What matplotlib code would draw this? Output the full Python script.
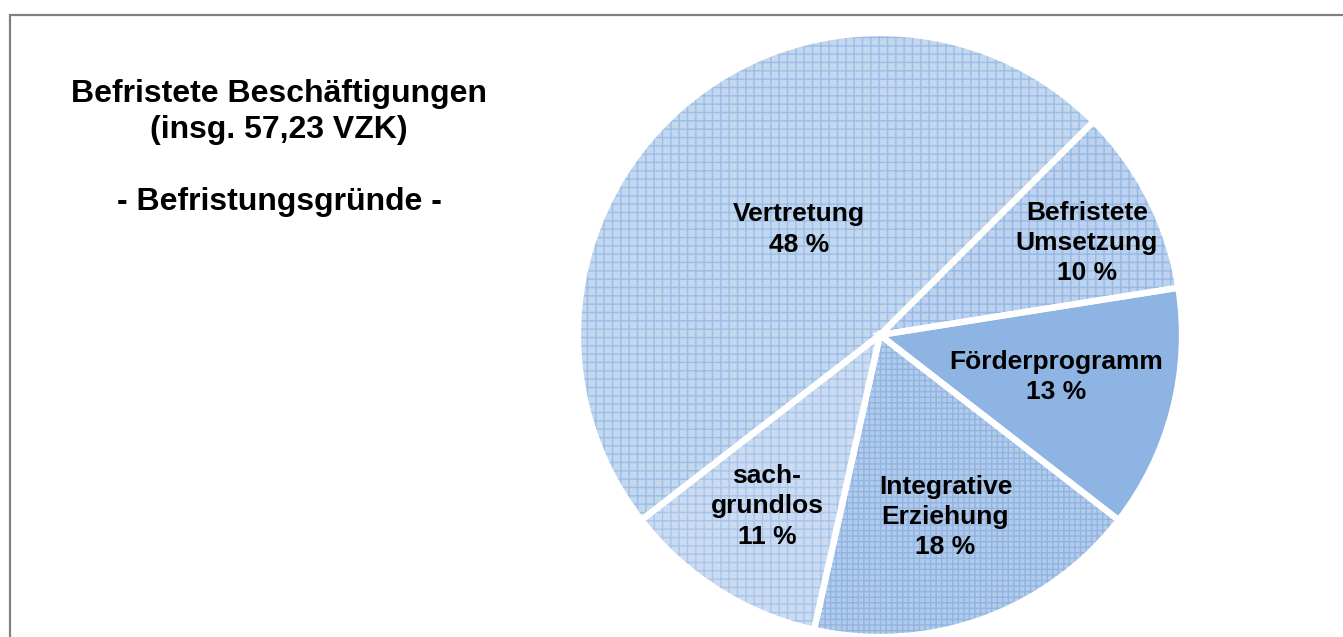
import numpy as np
import matplotlib.pyplot as plt
from matplotlib.patches import Rectangle

plt.rcParams["font.family"] = ["Liberation Sans", "DejaVu Sans"]
plt.rcParams["hatch.linewidth"] = 1.0

# data (clockwise from the upper right)
categories = ["Befristete\nUmsetzung", "Förderprogramm", "Integrative\nErziehung",
              "sach-\ngrundlos", "Vertretung"]
shares = [10, 13, 18, 11, 48]

# style
base_colors = ["#bcd2ee", "#8eb4e3", "#b3cbea", "#cbdcf2", "#c3d7ef"]
hatch_colors = ["#95b8e4", "#8eb4e3", "#90b5e3", "#a8c4e9", "#9bbde6"]
hatches = ["++", None, "+++", "++", "++"]
label_radius = [0.75, 0.60, 0.64, 0.68, 0.44]
label_shift = [-3, 1, 0, -1, -4]   # degrees, small nudges off the wedge middle

W, H = 1343, 637
fig = plt.figure(figsize=(W / 100, H / 100), dpi=100)

# grey frame (right / bottom edge outside the picture)
fig.patches.append(Rectangle((9.5 / W, -0.1), 2.0, 1 - 14.5 / H + 0.1,
                             transform=fig.transFigure, fill=False,
                             edgecolor="#808080", linewidth=1.6))

cx, cy, r = 880, 335, 302
ax = fig.add_axes([(cx - r) / W, (H - cy - r) / H, 2 * r / W, 2 * r / H])

wedges, _ = ax.pie(shares, colors=base_colors, startangle=45, counterclock=False,
                   wedgeprops=dict(linewidth=0))
for w, hc, h in zip(wedges, hatch_colors, hatches):
    w.set_clip_on(False)
    if h:
        w.set_hatch(h)
        w.set_edgecolor(hc)
        w.set_linewidth(0)

# white separators
sep, _ = ax.pie(shares, startangle=45, counterclock=False,
                wedgeprops=dict(fill=False, edgecolor="white", linewidth=4.5))
for w in sep:
    w.set_clip_on(False)

for w, cat, val, rr, sh in zip(wedges, categories, shares, label_radius, label_shift):
    mid = np.deg2rad((w.theta1 + w.theta2) / 2 + sh)
    ax.text(rr * np.cos(mid), rr * np.sin(mid), f"{cat}\n{val} %",
            ha="center", va="center", fontsize=19, fontweight="bold",
            linespacing=1.33)

ax.set_xlim(-1, 1)
ax.set_ylim(-1, 1)
ax.set_aspect("equal")
ax.axis("off")

fig.text(279 / W, 1 - 148 / H,
         "Befristete Beschäftigungen\n(insg. 57,23 VZK)\n\n- Befristungsgründe -",
         ha="center", va="center", fontsize=23, fontweight="bold", linespacing=1.27)

fig.savefig("out.png", dpi=100)
